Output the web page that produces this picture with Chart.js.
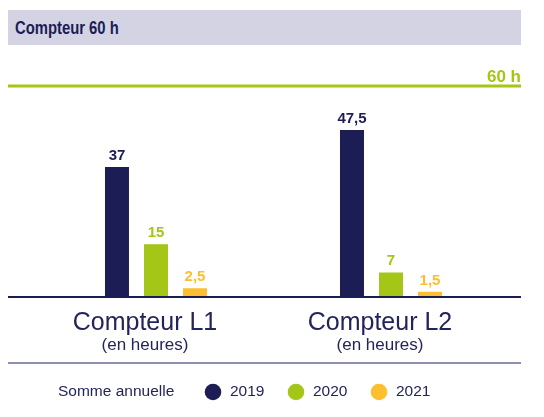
<!DOCTYPE html>
<html lang="fr">
<head>
<meta charset="utf-8">
<title>Compteur 60 h</title>
<script src="https://cdn.jsdelivr.net/npm/chart.js@4.4.1/dist/chart.umd.min.js"></script>
<style>
    html, body { margin: 0; padding: 0; background: #fff; }
    #wrap { position: relative; width: 544px; height: 417px; overflow: hidden; }
    #header {
        position: absolute; left: 8px; top: 10px; width: 513px; height: 35px;
        background: #d3d3e4; box-sizing: border-box; padding-left: 7px;
        color: #1c1d55; line-height: 37px; white-space: nowrap;
    }
    #header span {
        display: inline-block; transform: scaleX(0.78); transform-origin: left center;
        font: bold 19px "Liberation Sans", sans-serif;
    }
    canvas { position: absolute; left: 0; top: 0; }
</style>
</head>
<body>
<div id="wrap">
    <canvas id="chart" width="544" height="417"></canvas>
    <div id="header"><span>Compteur 60 h</span></div>
</div>
<script>
const categories = ['Compteur L1', 'Compteur L2'];
const unitLabel = '(en heures)';
const years = ['2019', '2020', '2021'];
const values2019 = [37, 47.5];
const values2020 = [15, 7];
const values2021 = [2.5, 1.5];
const thresholdValue = 60;
const thresholdLabel = '60 h';
const legendTitle = 'Somme annuelle';

const NAVY = '#1c1d55';
const GREEN = '#a3c617';
const YELLOW = '#fdbf2d';

const fmt = v => String(v).replace('.', ',');

// lines, value labels, category labels and legend
const decorPlugin = {
    id: 'decor',
    afterDatasetsDraw(chart) {
        const { ctx } = chart;
        const x = chart.scales.x;
        const y = chart.scales.y;
        const left = 8, right = 521;

        ctx.save();

        // 60 h threshold
        const yTop = y.getPixelForValue(thresholdValue);
        ctx.fillStyle = GREEN;
        ctx.fillRect(left, yTop - 1.5, right - left, 3);
        ctx.font = 'bold 17px "Liberation Sans", sans-serif';
        ctx.textAlign = 'right';
        ctx.textBaseline = 'alphabetic';
        ctx.fillText(thresholdLabel, right, yTop - 4.5);

        // baseline
        const y0 = y.getPixelForValue(0);
        ctx.fillStyle = NAVY;
        ctx.fillRect(left, y0 - 1, right - left, 2);

        // value labels
        ctx.font = 'bold 15px "Liberation Sans", sans-serif';
        ctx.textAlign = 'center';
        chart.data.datasets.forEach((ds, i) => {
            chart.getDatasetMeta(i).data.forEach((bar, j) => {
                ctx.fillStyle = ds.backgroundColor;
                ctx.fillText(fmt(ds.data[j]), bar.x, bar.y - 7);
            });
        });

        // category labels
        ctx.fillStyle = '#23245b';
        categories.forEach((c, i) => {
            const cx = x.getPixelForValue(i) - 11;
            ctx.font = '25px "Liberation Sans", sans-serif';
            ctx.fillText(c, cx, 330);
            ctx.font = '17px "Liberation Sans", sans-serif';
            ctx.fillText(unitLabel, cx, 350);
        });

        // separator
        ctx.fillStyle = '#8e8fae';
        ctx.fillRect(left, 362, right - left, 2);

        // legend
        ctx.font = '15.5px "Liberation Sans", sans-serif';
        ctx.textAlign = 'left';
        ctx.textBaseline = 'middle';
        ctx.fillStyle = '#23245b';
        ctx.fillText(legendTitle, 58, 392);
        const dotX = [213, 296, 379];
        chart.data.datasets.forEach((ds, i) => {
            ctx.fillStyle = ds.backgroundColor;
            ctx.beginPath();
            ctx.arc(dotX[i], 392, 8.3, 0, Math.PI * 2);
            ctx.fill();
            ctx.fillStyle = '#23245b';
            ctx.fillText(ds.label, dotX[i] + 17, 392);
        });

        ctx.restore();
    }
};

new Chart(document.getElementById('chart'), {
    type: 'bar',
    data: {
        labels: categories,
        datasets: [
            { label: years[0], data: values2019, backgroundColor: NAVY },
            { label: years[1], data: values2020, backgroundColor: GREEN },
            { label: years[2], data: values2021, backgroundColor: YELLOW }
        ]
    },
    options: {
        responsive: false,
        animation: false,
        layout: { padding: { left: 38.5, right: 35.5, top: 86, bottom: 120 } },
        datasets: {
            bar: { categoryPercentage: 0.498, barPercentage: 0.615 }
        },
        scales: {
            x: { display: false },
            y: { display: false, min: 0, max: 60 }
        },
        plugins: {
            legend: { display: false },
            tooltip: { enabled: false }
        }
    },
    plugins: [decorPlugin]
});
</script>
</body>
</html>
